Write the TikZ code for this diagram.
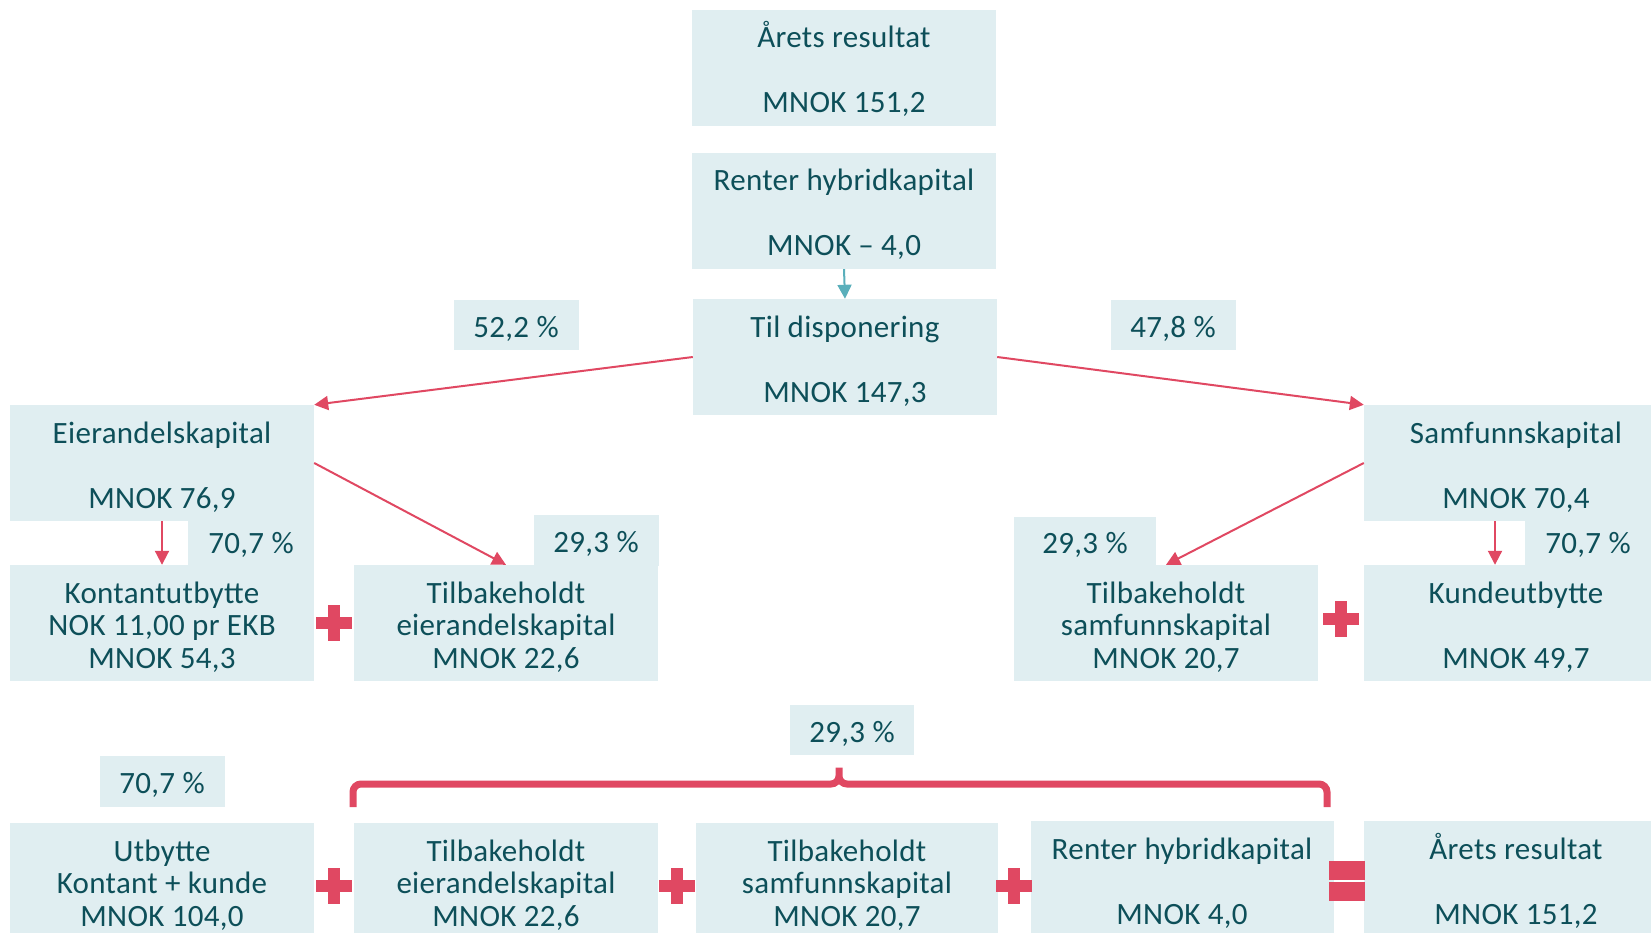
\documentclass[tikz,border=0pt]{standalone}
\usepackage{fontspec}
\setmainfont{Carlito}[LetterSpace=1]
\usepackage{xcolor}
\usetikzlibrary{positioning, arrows.meta, calc}

\definecolor{boxfill}{HTML}{E0EEF1}
\definecolor{txtdark}{HTML}{0D4F59}
\definecolor{accred}{HTML}{E04862}
\definecolor{accteal}{HTML}{5AAFBB}

% fixed first/last line extents, so every box sets its text alike
\newcommand{\firststrut}{\rule{0pt}{33pt}}
\newcommand{\laststrut}{\rule[-8pt]{0pt}{8pt}}

\begin{document}
\begin{tikzpicture}[
  x=1pt, y=-1pt,
  valbox/.style={fill=boxfill, text=txtdark, minimum width=304pt, minimum height=116pt, inner sep=0pt, align=center, font=\fontsize{31}{32.5}\selectfont},
  pctbox/.style={fill=boxfill, text=txtdark, minimum width=125pt, minimum height=50pt, inner sep=0pt, text height=28pt, text depth=4pt, font=\fontsize{31}{32.5}\selectfont},
  redarrow/.style={-{Triangle[length=14pt, width=14pt]}, draw=accred, line width=2pt},
  tealarrow/.style={-{Triangle[length=14pt, width=14pt]}, draw=accteal, line width=2pt},
  bracket/.style={draw=accred, line width=7pt, rounded corners=8pt},
  plusmark/.pic={
    \fill[accred] (-18,-6) rectangle (18,6);
    \fill[accred] (-6,-18) rectangle (6,18);
  },
  equalmark/.pic={
    \fill[accred] (-18,-20) rectangle (18,-1);
    \fill[accred] (-18,1) rectangle (18,20);
  },
]
\useasboundingbox (0,0) rectangle (1651,933);

%% ── Top column ───────────────────────────────────────────────────────────────
\node[valbox] (res)   at (844, 68)  {\firststrut Årets resultat\\[32.5pt]MNOK 151,2\laststrut};
\node[valbox] (hyb)   at (844, 211) {\firststrut Renter hybridkapital\\[32.5pt]MNOK – 4,0\laststrut};
\node[valbox] (disp)  at (845, 357) {\firststrut Til disponering\\[32.5pt]MNOK 147,3\laststrut};

%% ── Split ────────────────────────────────────────────────────────────────────
\node[pctbox] (pctL)  at (516, 325)  {52,2 \%};
\node[pctbox] (pctR)  at (1173, 325) {47,8 \%};
\node[valbox] (eier)  at (162, 463)  {\firststrut Eierandelskapital\\[32.5pt]MNOK 76,9\laststrut};
\node[valbox] (samf)  at (1516, 463) {\firststrut Samfunnskapital\\[32.5pt]MNOK 70,4\laststrut};

%% ── Second level ─────────────────────────────────────────────────────────────
\node[pctbox, minimum width=126pt, minimum height=48pt] (pctKo) at (251, 541)  {70,7 \%};
\node[pctbox, minimum height=51pt]                      (pctTe) at (596, 540)  {29,3 \%};
\node[pctbox, minimum width=142pt, minimum height=48pt] (pctTs) at (1085, 541) {29,3 \%};
\node[pctbox, minimum width=126pt, minimum height=48pt] (pctKu) at (1588, 541) {70,7 \%};

\node[valbox] (kont)  at (162, 623)  {\firststrut Kontantutbytte\\NOK 11,00 pr EKB\\MNOK 54,3\laststrut};
\node[valbox] (tbe)   at (506, 623)  {\firststrut Tilbakeholdt\\eierandelskapital\\MNOK 22,6\laststrut};
\node[valbox] (tbs)   at (1166, 623) {\firststrut Tilbakeholdt\\samfunnskapital\\MNOK 20,7\laststrut};
\node[valbox] (kunde) at (1516, 623) {\firststrut Kundeutbytte\\[32.5pt]MNOK 49,7\laststrut};

\pic at (334, 623)  {plusmark};
\pic at (1341, 619) {plusmark};

%% ── Arrows ───────────────────────────────────────────────────────────────────
\draw[tealarrow] (hyb.south) -- (disp.north);
\draw[redarrow] (disp.west) -- (eier.north east);
\draw[redarrow] (disp.east) -- (samf.north west);
\draw[redarrow] (eier.south) -- (kont.north);
\draw[redarrow] (eier.east) -- (tbe.north);
\draw[redarrow] (samf.west) -- (tbs.north);
\draw[redarrow] ([xshift=-21pt]samf.south) -- ([xshift=-21pt]kunde.north);

%% ── Summary row ──────────────────────────────────────────────────────────────
\node[pctbox, minimum height=51pt] (pctUt)  at (162, 781) {70,7 \%};
\node[pctbox, minimum width=124pt] (pctSum) at (852, 730) {29,3 \%};

\node[valbox] (utb)   at (162, 881)  {\firststrut Utbytte\\Kontant + kunde\\MNOK 104,0\laststrut};
\node[valbox] (tbe2)  at (506, 881)  {\firststrut Tilbakeholdt\\eierandelskapital\\MNOK 22,6\laststrut};
\node[valbox, minimum width=302pt] (tbs2) at (847, 881) {\firststrut Tilbakeholdt\\samfunnskapital\\MNOK 20,7\laststrut};
\node[valbox, minimum width=303pt] (hyb2) at (1182, 879) {\firststrut Renter hybridkapital\\[32.5pt]MNOK 4,0\laststrut};
\node[valbox] (res2)  at (1516, 879) {\firststrut Årets resultat\\[32.5pt]MNOK 151,2\laststrut};

\pic at (334, 886)  {plusmark};
\pic at (677, 886)  {plusmark};
\pic at (1014, 886) {plusmark};
\pic at (1347, 881) {equalmark};

%% ── Bracket ──────────────────────────────────────────────────────────────────
\draw[bracket] (353,807) -- (353,784) -- (839,784) -- (839,763) -- (839,784) -- (1327,784) -- (1327,807);

\end{tikzpicture}
\end{document}
